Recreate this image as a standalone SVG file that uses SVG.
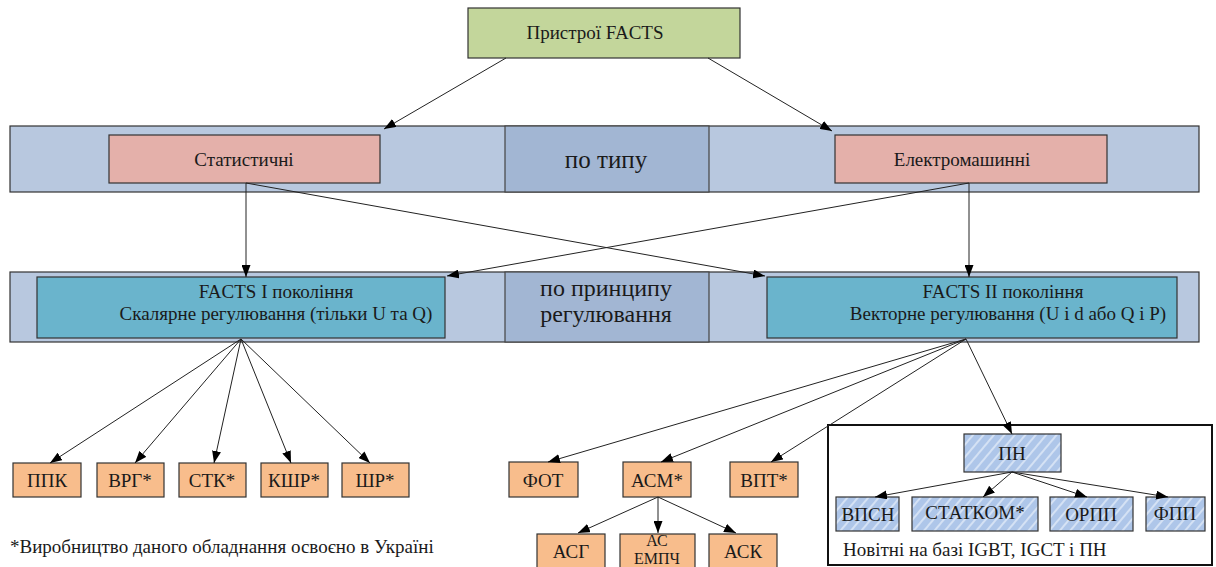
<svg xmlns="http://www.w3.org/2000/svg" width="1216" height="567" viewBox="0 0 1216 567">
<style>
.t{font-family:"Liberation Serif","Times New Roman",serif;fill:#1a1a1a;text-anchor:middle;font-size:19px}
.s{font-family:"Liberation Serif","Times New Roman",serif;fill:#1a1a1a;font-size:19px}
.bx{stroke:#333;stroke-width:1.2}
.band{fill:#b8c8df;stroke:#333;stroke-width:1.2}
.mid{fill:#a2b6d3;stroke:#444;stroke-width:1.2}
.grn{fill:#c3d69b}
.pnk{fill:#e4b0aa}
.teal{fill:#6ab4cc}
.org{fill:#f8bd8c}
.htc{fill:url(#hatch)}
.c{stroke:#222;stroke-width:1;fill:none;marker-end:url(#ah)}
</style>
<defs>
<marker id="ah" markerUnits="userSpaceOnUse" markerWidth="12" markerHeight="9" refX="12" refY="4.5" orient="auto">
<path d="M0,0 L12,4.5 L0,9 z" fill="#000"/>
</marker>
<pattern id="hatch" patternUnits="userSpaceOnUse" width="8" height="8" patternTransform="rotate(40)">
<rect width="8" height="8" fill="#aec6e9"/>
<line x1="1" y1="0" x2="1" y2="8" stroke="#eaf1fa" stroke-width="1.3"/>
</pattern>
</defs>

<g id="bands">
<rect class="band" x="10" y="126" width="1189" height="66"/>
<rect class="mid" x="505" y="126" width="204" height="66"/>
<rect class="band" x="10" y="272" width="1189" height="70"/>
<rect class="mid" x="505" y="272" width="204" height="70"/>
<text class="t" x="606" y="168" style="font-size:25px">по типу</text>
<text class="t" x="606" y="296" style="font-size:24px">по принципу</text>
<text class="t" x="606" y="322" style="font-size:24px">регулювання</text>
</g>

<g id="n-facts">
<rect class="bx grn" x="468" y="8" width="272" height="50"/>
<text class="t" x="595" y="39">Пристрої FACTS</text>
</g>
<g id="n-stat">
<rect class="bx pnk" x="109" y="135" width="271" height="48"/>
<text class="t" x="244" y="166">Статистичні</text>
</g>
<g id="n-elmash">
<rect class="bx pnk" x="835" y="135" width="272" height="48"/>
<text class="t" x="962" y="166">Електромашинні</text>
</g>
<g id="n-facts1">
<rect class="bx teal" x="37" y="277" width="408" height="61"/>
<text class="t" x="276" y="298">FACTS I покоління</text>
<text class="t" x="276" y="320">Скалярне регулювання (тільки U та Q)</text>
</g>
<g id="n-facts2">
<rect class="bx teal" x="767" y="277" width="410" height="61"/>
<text class="t" x="1003" y="298">FACTS II покоління</text>
<text class="t" x="1008" y="320">Векторне регулювання (U і d або Q і P)</text>
</g>

<g id="n-ppk"><rect class="bx org" x="13" y="463" width="68" height="34"/><text class="t" x="47" y="487">ППК</text></g>
<g id="n-vrg"><rect class="bx org" x="97" y="463" width="67" height="34"/><text class="t" x="130" y="487">ВРГ*</text></g>
<g id="n-stk"><rect class="bx org" x="179" y="463" width="67" height="34"/><text class="t" x="212" y="487">СТК*</text></g>
<g id="n-kshr"><rect class="bx org" x="261" y="463" width="67" height="34"/><text class="t" x="294" y="487">КШР*</text></g>
<g id="n-shr"><rect class="bx org" x="342" y="463" width="67" height="34"/><text class="t" x="375" y="487">ШР*</text></g>

<g id="n-fot"><rect class="bx org" x="509" y="462" width="69" height="35"/><text class="t" x="543" y="487">ФОТ</text></g>
<g id="n-asm"><rect class="bx org" x="623" y="462" width="68" height="35"/><text class="t" x="657" y="487">АСМ*</text></g>
<g id="n-vpt"><rect class="bx org" x="730" y="462" width="68" height="35"/><text class="t" x="764" y="487">ВПТ*</text></g>

<g id="n-asg"><rect class="bx org" x="537" y="534" width="68" height="40"/><text class="t" x="571" y="558">АСГ</text></g>
<g id="n-asempch"><rect class="bx org" x="620" y="534" width="75" height="40"/><text class="t" x="657" y="546" style="font-size:16px">АС</text><text class="t" x="657" y="564" style="font-size:16px">ЕМПЧ</text></g>
<g id="n-ask"><rect class="bx org" x="709" y="534" width="68" height="40"/><text class="t" x="743" y="558">АСК</text></g>

<g id="frame">
<rect x="828" y="425" width="384" height="140" fill="none" stroke="#111" stroke-width="2"/>
<text class="s" x="843" y="556">Новітні на базі IGBT, IGCT і ПН</text>
</g>
<g id="n-pn"><rect class="bx htc" x="964" y="434" width="97" height="38"/><text class="t" x="1012" y="460">ПН</text></g>
<g id="n-vpsn"><rect class="bx htc" x="836" y="497" width="63" height="34"/><text class="t" x="868" y="521">ВПСН</text></g>
<g id="n-statkom"><rect class="bx htc" x="912" y="497" width="126" height="34"/><text class="t" x="975" y="519">СТАТКОМ*</text></g>
<g id="n-orpp"><rect class="bx htc" x="1050" y="497" width="83" height="34"/><text class="t" x="1091" y="521">ОРПП</text></g>
<g id="n-fpp"><rect class="bx htc" x="1146" y="497" width="59" height="34"/><text class="t" x="1175" y="520">ФПП</text></g>

<g id="footnote">
<text class="s" x="10" y="553">*Виробництво даного обладнання освоєно в Україні</text>
</g>

<g id="connectors">
<line class="c" x1="506" y1="58" x2="384" y2="129"/>
<line class="c" x1="708" y1="58" x2="832" y2="131"/>
<line class="c" x1="246" y1="183" x2="246" y2="277"/>
<line class="c" x1="246" y1="183" x2="765" y2="276"/>
<line class="c" x1="969" y1="183" x2="447" y2="276"/>
<line class="c" x1="969" y1="183" x2="969" y2="277"/>
<line class="c" x1="241" y1="339" x2="50" y2="463"/>
<line class="c" x1="241" y1="339" x2="135" y2="463"/>
<line class="c" x1="241" y1="339" x2="214" y2="463"/>
<line class="c" x1="241" y1="339" x2="291" y2="463"/>
<line class="c" x1="241" y1="339" x2="370" y2="463"/>
<line class="c" x1="966" y1="339" x2="548" y2="462"/>
<line class="c" x1="966" y1="339" x2="661" y2="462"/>
<line class="c" x1="966" y1="339" x2="771" y2="462"/>
<line class="c" x1="966" y1="339" x2="1012" y2="434"/>
<line class="c" x1="658" y1="497" x2="578" y2="533"/>
<line class="c" x1="658" y1="497" x2="658" y2="533"/>
<line class="c" x1="658" y1="497" x2="736" y2="533"/>
<line class="c" x1="1012" y1="472" x2="875" y2="497"/>
<line class="c" x1="1012" y1="472" x2="983" y2="497"/>
<line class="c" x1="1012" y1="472" x2="1087" y2="497"/>
<line class="c" x1="1012" y1="472" x2="1168" y2="497"/>
</g>
</svg>
